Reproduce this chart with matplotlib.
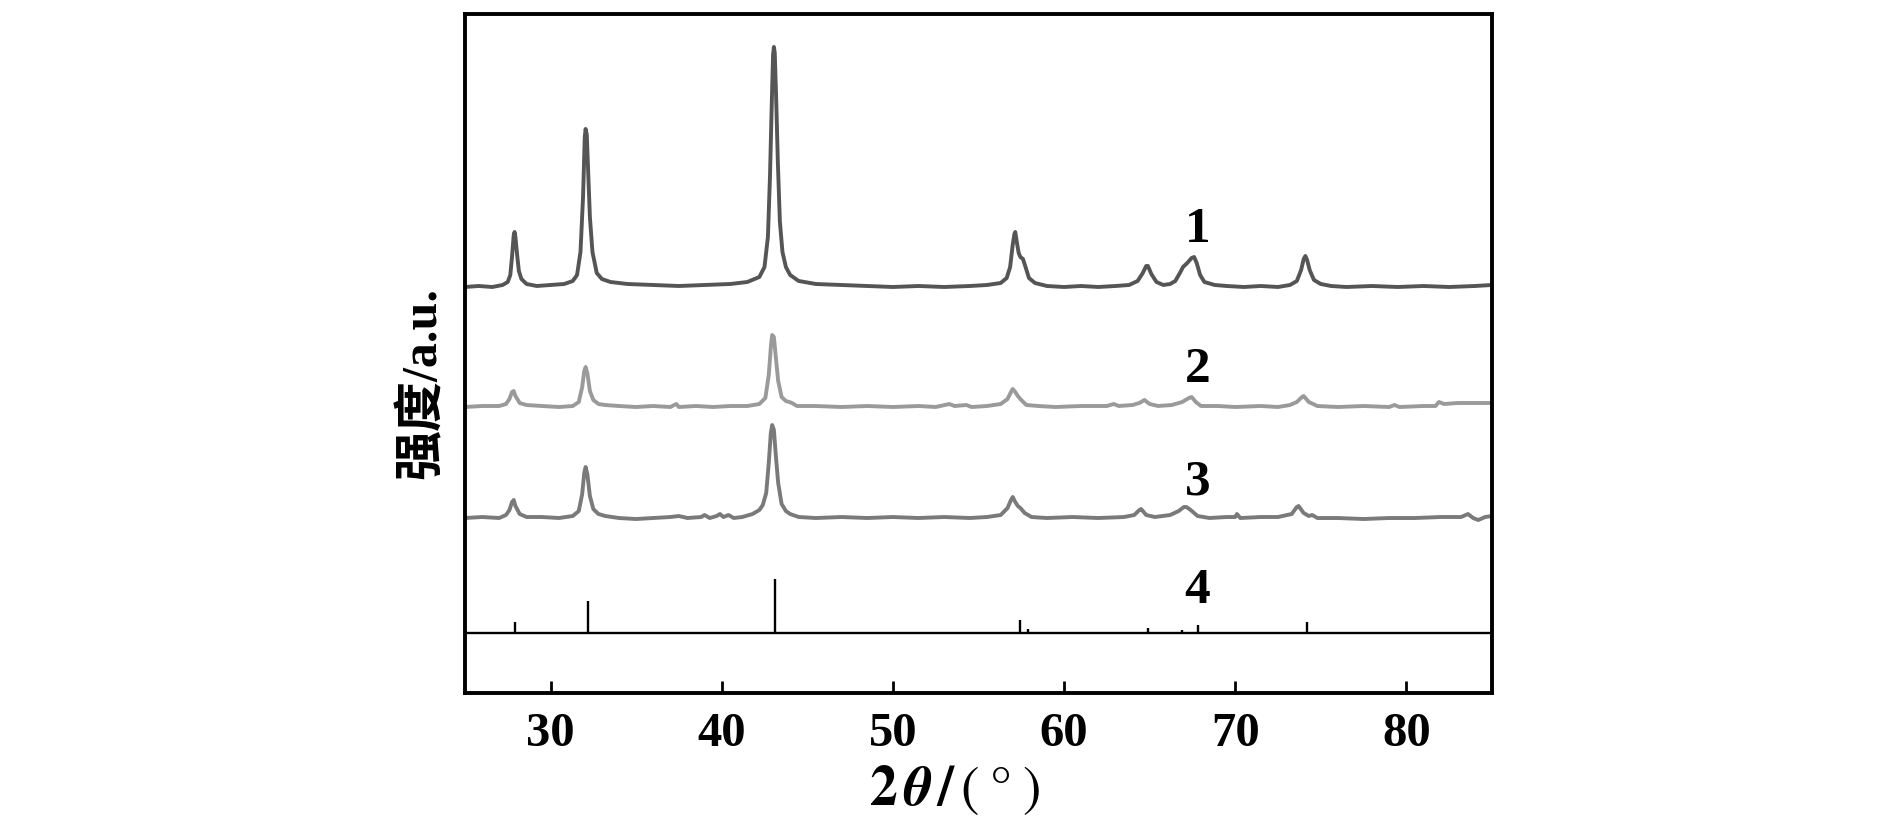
#!/usr/bin/env python3
import numpy as np
import matplotlib
matplotlib.use("Agg")
import matplotlib.pyplot as plt

# XRD patterns: (2theta, intensity above baseline)
curve1 = [
    (25.0, 0), (25.8, 1), (26.6, 0), (27.2, 2), (27.5, 5), (27.65, 12), (27.75, 30),
    (27.85, 52), (27.9, 55), (27.95, 50), (28.05, 32), (28.15, 16), (28.3, 8),
    (28.6, 3), (29.2, 1), (30.0, 2), (30.8, 3), (31.3, 6), (31.55, 12), (31.75, 35),
    (31.9, 90), (32.0, 150), (32.05, 158), (32.12, 152), (32.2, 115), (32.3, 70),
    (32.45, 35), (32.7, 14), (33.0, 8), (33.5, 5), (34.5, 3), (36.0, 2), (37.5, 1),
    (39.0, 2), (40.5, 3), (41.5, 5), (42.2, 10), (42.5, 20), (42.7, 50), (42.82, 110),
    (42.92, 180), (43.0, 232), (43.05, 240), (43.1, 234), (43.18, 190), (43.28, 125),
    (43.4, 65), (43.55, 35), (43.75, 20), (44.0, 12), (44.5, 6), (45.5, 3),
    (47.0, 2), (48.5, 1), (50.0, 0), (51.5, 1), (53.0, 0), (54.5, 1), (55.5, 2),
    (56.3, 4), (56.65, 9), (56.85, 20), (57.0, 42), (57.1, 53), (57.15, 55),
    (57.25, 44), (57.35, 34), (57.45, 30), (57.6, 28), (57.75, 20), (57.95, 9),
    (58.3, 4), (59.0, 1), (60.0, 0), (61.0, 1), (62.0, 0), (63.0, 1), (63.8, 2),
    (64.3, 6), (64.6, 14), (64.8, 21), (64.9, 21), (65.1, 13), (65.4, 5), (65.8, 2),
    (66.2, 3), (66.5, 6), (66.8, 15), (66.95, 20), (67.2, 24), (67.45, 29),
    (67.6, 30), (67.75, 24), (67.95, 12), (68.2, 5), (68.8, 2), (69.5, 1),
    (70.5, 0), (71.5, 1), (72.5, 0), (73.2, 2), (73.6, 6), (73.85, 17), (74.0, 28),
    (74.1, 31), (74.2, 27), (74.35, 17), (74.6, 7), (75.0, 3), (75.6, 1), (76.5, 0),
    (78.0, 1), (79.5, 0), (81.0, 1), (82.5, 0), (84.0, 1), (85.0, 2),
]

curve2 = [
    (25.0, 0), (26.0, 1), (27.0, 1), (27.4, 3), (27.6, 8), (27.75, 15), (27.85, 16),
    (27.95, 11), (28.2, 4), (28.6, 2), (29.5, 1), (30.5, 0), (31.3, 1), (31.65, 5),
    (31.85, 20), (31.97, 36), (32.05, 40), (32.15, 34), (32.3, 16), (32.5, 7),
    (32.8, 3), (33.2, 2), (34.0, 1), (35.0, 0), (36.0, 1), (37.0, 0), (37.35, 3),
    (37.5, 0), (38.5, 1), (39.5, 0), (40.5, 1), (41.5, 1), (42.2, 3), (42.55, 9),
    (42.75, 32), (42.88, 62), (42.95, 72), (43.05, 70), (43.15, 52), (43.3, 26),
    (43.5, 10), (43.75, 6), (43.95, 5), (44.1, 4), (44.4, 1), (45.5, 1), (47.0, 0),
    (48.5, 1), (50.0, 0), (51.5, 1), (52.5, 0), (53.3, 3), (53.6, 1), (54.3, 2),
    (54.6, 0), (55.5, 1), (56.3, 3), (56.7, 8), (56.9, 15), (57.0, 18), (57.15, 15),
    (57.3, 11), (57.5, 7), (57.8, 2), (58.5, 1), (59.5, 0), (61.0, 1), (62.5, 1),
    (62.9, 3), (63.2, 1), (64.0, 2), (64.4, 4), (64.7, 7), (65.0, 3), (65.5, 1),
    (66.3, 2), (66.9, 5), (67.3, 9), (67.45, 10), (67.7, 5), (68.0, 1), (69.0, 1),
    (70.0, 0), (71.5, 1), (72.5, 0), (73.2, 2), (73.6, 5), (73.9, 10), (74.0, 11),
    (74.3, 5), (74.8, 1), (76.0, 0), (77.5, 1), (79.0, 0), (79.3, 2), (79.6, 0),
    (81.0, 1), (81.7, 1), (81.9, 5), (82.2, 3), (83.0, 4), (84.0, 4), (85.0, 4),
]

curve3 = [
    (25.0, 0), (26.0, 1), (27.0, 0), (27.4, 3), (27.6, 8), (27.75, 16), (27.85, 18),
    (27.95, 12), (28.2, 4), (28.6, 1), (29.5, 1), (30.5, 0), (31.3, 2), (31.65, 7),
    (31.85, 24), (31.97, 45), (32.05, 51), (32.15, 44), (32.3, 22), (32.5, 9),
    (32.8, 4), (33.2, 2), (34.0, 0), (35.0, -1), (36.0, 0), (37.0, 1), (37.5, 2),
    (38.0, 0), (38.8, 1), (39.0, 3), (39.3, 0), (39.7, 2), (39.9, 4), (40.1, 1),
    (40.4, 3), (40.7, 0), (41.2, 1), (41.8, 4), (42.2, 8), (42.4, 13), (42.6, 25),
    (42.75, 55), (42.87, 85), (42.95, 93), (43.05, 88), (43.15, 65), (43.3, 35),
    (43.5, 14), (43.75, 7), (44.0, 4), (44.5, 1), (45.5, 0), (47.0, 1), (48.5, 0),
    (50.0, 1), (51.5, 0), (53.0, 1), (54.5, 0), (55.5, 1), (56.3, 3), (56.7, 10),
    (56.9, 18), (57.0, 21), (57.15, 16), (57.3, 12), (57.45, 10), (57.7, 5),
    (58.1, 1), (59.0, 0), (60.5, 1), (62.0, 0), (63.5, 1), (64.1, 3), (64.4, 8),
    (64.5, 9), (64.8, 3), (65.3, 1), (66.2, 3), (66.7, 7), (67.0, 11), (67.15, 11),
    (67.4, 8), (67.8, 2), (68.5, 0), (69.5, 1), (70.0, 1), (70.1, 4), (70.3, 0),
    (71.5, 1), (72.5, 1), (73.3, 4), (73.6, 11), (73.7, 12), (74.0, 5), (74.3, 2),
    (74.5, 3), (74.8, 0), (76.0, 0), (77.5, -1), (79.0, 0), (80.5, 0), (82.0, 1),
    (83.2, 1), (83.6, 4), (83.9, 0), (84.2, -2), (84.6, 1), (85.0, 2),
]

# standard card (pattern 4): line positions and relative heights
ref_pos = [27.9, 32.2, 43.1, 57.4, 57.9, 64.9, 66.9, 67.8, 74.2]
ref_int = [11, 32, 54, 13, 4, 5, 3, 8, 11]

labels = ["1", "2", "3", "4"]
xticks = [30, 40, 50, 60, 70, 80]


def main():
    plt.rcParams["mathtext.fontset"] = "stix"
    serif = ["Liberation Serif", "DejaVu Serif"]

    fig = plt.figure(figsize=(18.9, 8.27), dpi=100)
    ax = fig.add_axes([0.246, 0.162, 0.5434, 0.8205])

    offsets = [406, 286, 175]
    colors = ["#555555", "#9a9a9a", "#7a7a7a"]
    for data, off, col in zip([curve1, curve2, curve3], offsets, colors):
        x, y = np.array(data, dtype=float).T
        ax.plot(x, y + off, color=col, lw=2.8, solid_joinstyle="round")

    ref_base = 60
    ax.axhline(ref_base, color="black", lw=1.7)
    ax.vlines(ref_pos, ref_base, ref_base + np.array(ref_int), color="black", lw=1.7)

    label_y = [463, 323, 211, 102]
    for lab, ly in zip(labels, label_y):
        ax.text(67.8, ly, lab, ha="center", va="center", fontsize=37,
                fontweight="bold", family=serif)

    ax.set_xlim(25, 85)
    ax.set_ylim(0, 678.5)
    ax.set_xticks(xticks)
    ax.set_yticks([])
    ax.tick_params(axis="x", direction="in", length=9, width=2, pad=14,
                   labelsize=35)
    for t in ax.get_xticklabels():
        t.set_family(serif)
        t.set_fontweight("bold")
    for s in ax.spines.values():
        s.set_linewidth(2.8)

    fig.text(0.505, 0.045,
             r"$\mathbf{2}\,\boldsymbol{\theta}\,\boldsymbol{/}\,\mathrm{(\;°\;)}$",
             ha="center", va="center", fontsize=40)
    fig.text(0.224, 0.537, "强度/a.u.", rotation=90, ha="center", va="center",
             fontsize=36, fontweight="bold",
             family=["Liberation Serif", "Noto Sans CJK SC"])

    fig.savefig("out.png", dpi=100)


if __name__ == "__main__":
    main()
